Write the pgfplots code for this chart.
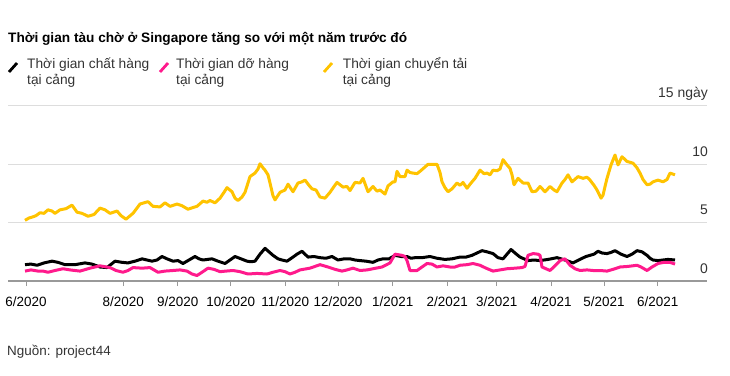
\documentclass[border=0pt]{standalone}
\usepackage{pgfplots}
\pgfplotsset{compat=1.18}
\usepackage{fontspec}
\setmainfont{Liberation Sans}
\definecolor{cpink}{HTML}{FF1A8C}
\definecolor{cyel}{HTML}{FFC300}
\definecolor{cgrid}{HTML}{DDDDDD}
\definecolor{cbase}{HTML}{999999}
\definecolor{ctext}{HTML}{333333}
\begin{document}
\begin{tikzpicture}[x=1bp,y=1bp]
\useasboundingbox (0,0) rectangle (730,375);
% title
\node[anchor=base west,inner sep=0,font=\fontsize{13.7}{16}\selectfont\bfseries] at (8,333) {Thời gian tàu chờ ở Singapore tăng so với một năm trước đó};
% legend
\draw[black,line width=2.8bp] (9,303) -- (17,312);
\node[anchor=base west,inner sep=0,text=ctext,font=\fontsize{13.8}{16}\selectfont] at (27,306.7) {Thời gian chất hàng};
\node[anchor=base west,inner sep=0,text=ctext,font=\fontsize{13.8}{16}\selectfont] at (27,291) {tại cảng};
\draw[cpink,line width=2.8bp] (160,303) -- (168,312);
\node[anchor=base west,inner sep=0,text=ctext,font=\fontsize{13.8}{16}\selectfont] at (176,306.7) {Thời gian dỡ hàng};
\node[anchor=base west,inner sep=0,text=ctext,font=\fontsize{13.8}{16}\selectfont] at (176,291) {tại cảng};
\draw[cyel,line width=2.8bp] (324,303) -- (332,312);
\node[anchor=base west,inner sep=0,text=ctext,font=\fontsize{13.8}{16}\selectfont] at (342.7,306.7) {Thời gian chuyển tải};
\node[anchor=base west,inner sep=0,text=ctext,font=\fontsize{13.8}{16}\selectfont] at (342.7,291) {tại cảng};
% source
\node[anchor=base west,inner sep=0,text=ctext,font=\fontsize{13.5}{16}\selectfont] at (7,20) {Nguồn: project44};
\begin{axis}[
  at={(8bp,94bp)}, anchor=south west,
  scale only axis, width=699bp, height=175bp,
  xmin=8, xmax=707, ymin=0, ymax=15,
  axis x line*=bottom, axis y line*=right,
  x axis line style={draw=cbase,line width=1.6bp,-},
  y axis line style={draw=none},
  xtick={26,123.3,177.7,230.7,285.3,338,392.7,447.3,496.7,551,604,657.7},
  xticklabels={6/2020,8/2020,9/2020,10/2020,11/2020,12/2020,1/2021,2/2021,3/2021,4/2021,5/2021,6/2021},
  xtick style={draw=cbase,line width=1bp},
  tick align=outside, major tick length=5bp,
  xticklabel style={font=\fontsize{13.5}{15}\selectfont, text=black, yshift=-7bp},
  ytick={0,5,10,15},
  yticklabels={0,5,10,15 ngày},
  ytick style={draw=none},
  yticklabel style={anchor=base east, inner sep=0, xshift=-4bp, yshift=8bp, font=\fontsize{14}{16}\selectfont, text=ctext},
  ymajorgrids, grid style={draw=cgrid,line width=1bp},
  clip=false,
]
\addplot[cyel,line width=3bp,line join=round] coordinates {
(25,5.2)(29,5.4)(33,5.5)(36,5.6)(40,5.85)(44,5.8)(48,6.1)(52,6.0)(55,5.8)(60,6.1)(66,6.2)(72,6.5)(77,5.9)(82,5.8)(88,5.55)(94,5.7)(100,6.25)
(105,6.1)(110,5.8)(117,6.0)(121,5.6)(126,5.3)(133,5.8)(140,6.6)(144,6.7)(148,6.8)(153,6.4)(160,6.35)(165,6.7)(170,6.4)
(177,6.6)(182,6.45)(188,6.15)(193,6.3)(197,6.4)(203,6.85)(207,6.75)(210,6.9)(215,6.7)(220,7.1)(224,7.6)(227,8.0)(232,7.65)(235,7.1)(238,6.9)
(242,7.2)(245,7.6)(250,8.95)(255,9.25)(258,9.6)(260,10.05)(263,9.7)(265,9.5)(268,9.1)(270,8.4)(273,7.3)(275,6.95)(280,7.6)(285,7.8)(288,8.3)
(293,7.65)(298,8.4)(302,8.5)(305,8.65)(309,8.2)(312,7.9)(316,7.8)(320,7.2)(325,7.1)(330,7.6)(334,8.1)(337,8.45)(343,8.05)(347,8.1)(350,7.75)(355,8.45)
(360,8.4)(363,8.8)(368,7.65)(373,8.1)(377,7.7)(380,7.8)(385,7.45)(388,8.15)(393,8.5)(395,8.5)(397,9.4)(400,8.95)(405,8.95)
(407,9.5)(410,9.3)(413,9.25)(417,9.2)(420,9.4)(424,9.7)(428,10.0)(433,10.0)(437,10.0)(440,9.3)(442,8.5)(445,8.0)(448,7.65)(452,7.9)(457,8.4)(460,8.2)(463,8.45)(467,7.95)
(471,8.4)(475,8.8)(480,9.5)(484,9.2)(487,9.25)(490,9.1)(493,9.5)(497,9.45)(500,9.6)(503,10.4)(507,9.95)(510,9.65)(512,9.1)(514,8.25)(518,8.8)
(523,8.4)(528,8.4)(532,7.65)(536,7.7)(540,8.1)(545,7.65)(550,8.1)(554,7.8)(557,7.65)(562,8.4)(565,8.7)(568,9.1)(572,8.5)
(578,8.95)(583,8.8)(587,8.9)(590,8.65)(594,8.2)(597,7.8)(601,7.1)(603,7.35)(605,8.1)(607,8.8)(611,9.95)(615,10.8)(618,9.95)
(622,10.65)(627,10.25)(633,10.1)(637,9.7)(640,9.25)(643,8.7)(647,8.25)(650,8.3)(653,8.5)(658,8.65)(663,8.5)(667,8.7)(670,9.25)(675,9.1)
};
\addplot[black,line width=3bp,line join=round] coordinates {
(25,1.4)(31,1.45)(37,1.35)(44,1.55)(52,1.7)(58,1.6)(65,1.4)(75,1.4)(85,1.55)(92,1.45)(100,1.2)(107,1.15)(115,1.7)(122,1.6)(128,1.55)(135,1.7)(142,1.9)
(147,1.8)(152,1.7)(157,1.8)(162,2.1)(167,1.9)(173,1.7)(178,1.75)(183,1.5)(189,1.8)(195,2.1)(199,1.9)(203,1.8)(212,1.9)(218,1.7)(225,1.5)(230,1.8)(235,2.1)(241,1.9)(247,1.7)
(251,1.65)(255,1.7)(260,2.3)(265,2.8)(269,2.5)(273,2.2)(278,1.9)(282,1.8)(287,1.7)(293,2.05)(297,2.3)(302,2.55)(305,2.3)(308,2.05)(314,2.1)(320,2.0)(326,1.95)(332,2.1)
(338,1.8)(344,1.9)(350,1.9)(355,1.8)(360,1.75)(366,1.7)(373,1.6)(378,1.8)(383,1.9)(389,1.9)(395,2.2)(401,2.1)(407,2.1)(411,1.95)(415,2.0)(422,2.0)(430,2.1)(437,1.95)(445,1.85)
(452,1.9)(460,2.05)(466,2.05)(472,2.2)(477,2.4)(482,2.6)(487,2.5)(493,2.35)(498,2.0)(503,1.9)(507,2.3)(511,2.7)(515,2.4)(520,2.05)(524,1.9)(528,1.75)(534,1.8)(540,1.75)(548,1.85)(557,2.0)
(565,1.8)(573,1.55)(581,1.9)(586,2.1)(590,2.2)(594,2.3)(598,2.55)(602,2.4)(607,2.35)(611,2.45)(615,2.6)(621,2.3)(627,2.1)(632,2.3)(637,2.6)(642,2.5)(647,2.2)(650,1.95)(653,1.8)(658,1.75)(663,1.8)(668,1.85)(675,1.8)
};
\addplot[cpink,line width=3bp,line join=round] coordinates {
(25,0.85)(31,0.95)(38,0.85)(43,0.85)(48,0.75)(55,0.9)(63,1.05)(70,0.95)(80,0.85)(90,1.1)(100,1.3)(110,1.15)(116,0.9)(123,0.75)(128,0.9)(133,1.15)(142,1.1)(150,1.15)
(154,0.95)(158,0.75)(165,0.85)(173,0.9)(180,0.95)(187,0.85)(192,0.6)(197,0.47)(202,0.75)(208,1.1)(214,1.0)(220,0.8)(226,0.85)(233,0.9)(240,0.8)(248,0.6)(257,0.65)(267,0.6)(273,0.75)(280,0.9)
(285,0.8)(290,0.6)(295,0.75)(300,0.95)(310,1.1)(320,1.4)(324,1.3)(328,1.2)(335,1.0)(342,0.85)(347,0.95)(353,1.1)(360,0.9)(367,0.95)(373,1.05)(382,1.2)(390,1.55)(395,2.3)
(402,2.2)(405,2.1)(407,1.75)(410,0.9)(417,0.9)(422,1.2)(427,1.5)(432,1.45)(437,1.2)(443,1.3)(450,1.2)(455,1.2)(460,1.35)(467,1.4)(473,1.5)(480,1.35)(486,1.1)
(493,0.85)(500,0.95)(507,1.05)(515,1.1)(522,1.15)(525,1.25)(528,2.2)(533,2.35)(538,2.3)(540,2.2)(542,1.2)(546,1.05)(550,0.9)(555,1.3)(560,1.75)(565,1.9)
(570,1.35)(575,1.05)(580,0.9)(587,0.95)(593,0.9)(600,0.9)(607,0.85)(613,1.0)(620,1.2)(628,1.25)(637,1.35)(641,1.2)(647,0.9)(652,1.2)(658,1.5)(664,1.6)(670,1.6)(675,1.45)
};
\end{axis}
\end{tikzpicture}
\end{document}
